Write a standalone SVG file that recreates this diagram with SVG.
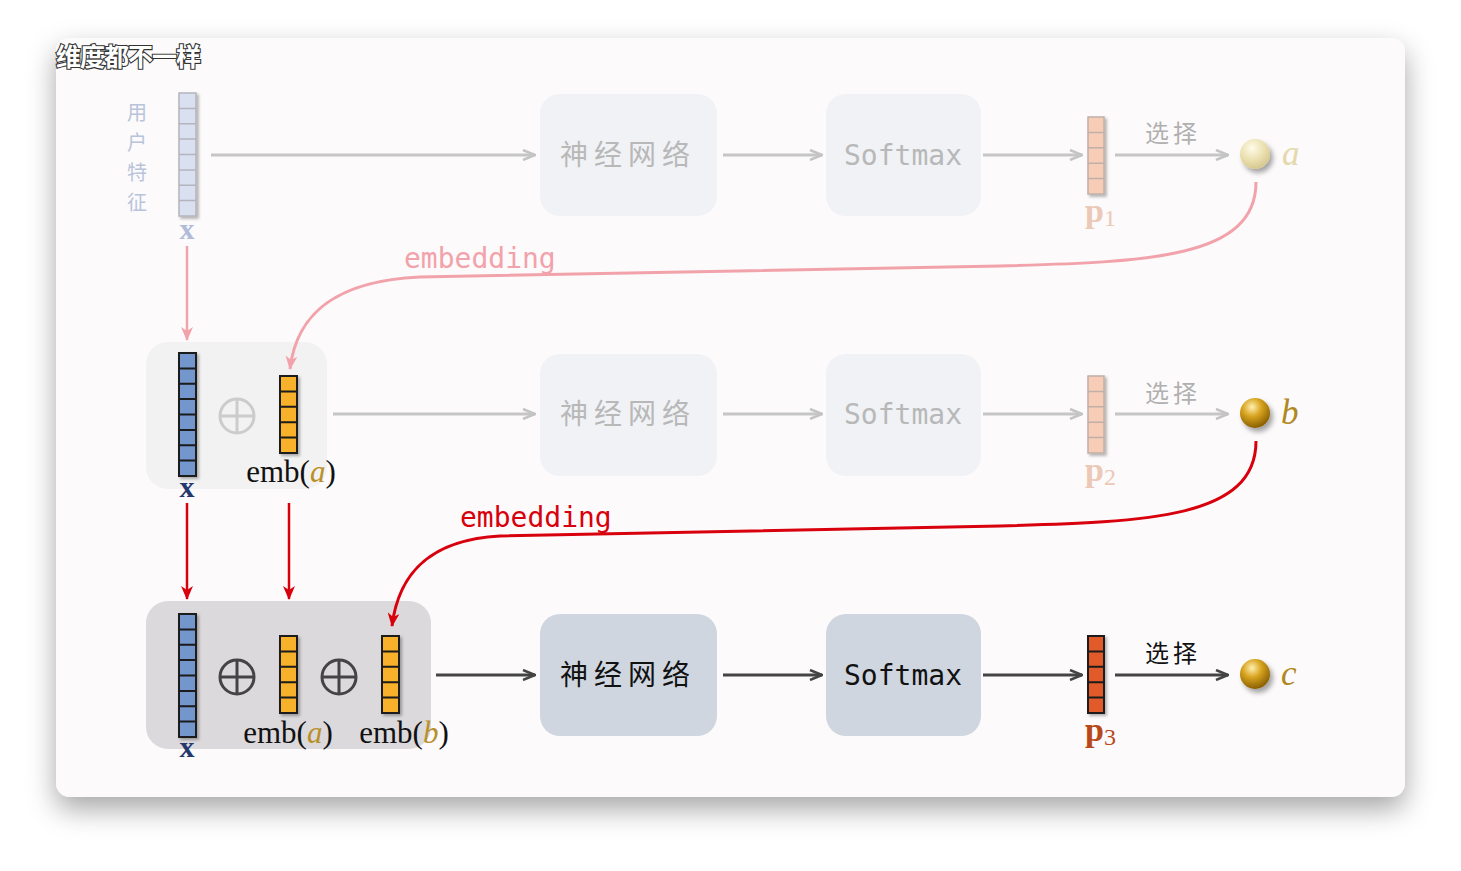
<svg xmlns="http://www.w3.org/2000/svg" width="1461" height="871" viewBox="0 0 1461 871">
<defs>
<filter id="cardShadow" x="-10%" y="-10%" width="120%" height="125%">
<feDropShadow dx="0" dy="12" stdDeviation="14" flood-color="#000" flood-opacity="0.35"/>
</filter>
<filter id="vs" x="-40%" y="-10%" width="200%" height="130%">
<feDropShadow dx="2" dy="2" stdDeviation="1.5" flood-color="#000" flood-opacity="0.3"/>
</filter>
<filter id="bs" x="-50%" y="-50%" width="220%" height="220%">
<feDropShadow dx="3" dy="4" stdDeviation="2.5" flood-color="#000" flood-opacity="0.35"/>
</filter>
<radialGradient id="gPale" cx="0.4" cy="0.3" r="0.7">
<stop offset="0" stop-color="#fffbe8"/>
<stop offset="0.6" stop-color="#eadfae"/>
<stop offset="1" stop-color="#d8c890"/>
</radialGradient>
<radialGradient id="gGold" cx="0.4" cy="0.3" r="0.7">
<stop offset="0" stop-color="#fff0b0"/>
<stop offset="0.45" stop-color="#d8a420"/>
<stop offset="1" stop-color="#8a6000"/>
</radialGradient>
<marker id="mGray" viewBox="0 0 14 12" refX="13" refY="6" markerWidth="14" markerHeight="12" markerUnits="userSpaceOnUse" orient="auto">
<path d="M1,1 L13,6 L1,11" fill="none" stroke="#c4c4c4" stroke-width="2.5"/>
</marker>
<marker id="mDark" viewBox="0 0 14 12" refX="13" refY="6" markerWidth="14" markerHeight="12" markerUnits="userSpaceOnUse" orient="auto">
<path d="M1,1 L13,6 L1,11" fill="none" stroke="#444" stroke-width="2.5"/>
</marker>
<marker id="mPink" viewBox="0 0 14 12" refX="13" refY="6" markerWidth="14" markerHeight="12" markerUnits="userSpaceOnUse" orient="auto">
<path d="M0,0 L14,6 L0,12 L4,6 Z" fill="#f2a2aa"/>
</marker>
<marker id="mRed" viewBox="0 0 14 12" refX="13" refY="6" markerWidth="14" markerHeight="12" markerUnits="userSpaceOnUse" orient="auto">
<path d="M0,0 L14,6 L0,12 L4,6 Z" fill="#d8000c"/>
</marker>
</defs>
<style>
.cjk{font-family:"Noto Sans CJK SC",sans-serif;}
.mono{font-family:"DejaVu Sans Mono","Liberation Mono",monospace;}
.serif{font-family:"Liberation Serif","DejaVu Serif",serif;}
.box1{fill:#f0f2f6;}
.box3{fill:#cfd6df;}
.lblFaint{fill:#b8b8b8;font-size:28px;}
.lblDark{fill:#111;font-size:28px;}
.vecFaint{fill:#d9e1f0;stroke:#b4b4bc;stroke-width:1.5;}
.vecBlue{fill:#7396cc;stroke:#1a1a1a;stroke-width:2;}
.vecOrange{fill:#f8b12c;stroke:#1a1a1a;stroke-width:2;}
.vecP{fill:#f7cdb8;stroke:#c0b0a8;stroke-width:1.5;}
.vecP3{fill:#e05a2a;stroke:#1a1a1a;stroke-width:2;}
.gline{stroke:#c6c6c6;stroke-width:3;fill:none;}
.dline{stroke:#444;stroke-width:3;fill:none;}
.xl{font-size:30px;font-weight:bold;}
.pl{font-size:34px;font-weight:bold;}
.sub{font-size:24px;font-weight:normal;}
.var{font-size:35px;font-style:italic;}
.emb{font-size:31px;fill:#111;}
</style>

<rect x="56" y="38" width="1349" height="759" rx="14" fill="#fcfafb" filter="url(#cardShadow)"/>
<text x="56" y="66" class="cjk" font-size="25" font-weight="bold" fill="#fff" stroke="#333" stroke-width="2.2" paint-order="stroke" letter-spacing="-1">维度都不一样</text>

<!-- Row 1 -->
<g id="row1-features">
<text x="137" y="120" class="cjk" font-size="20" fill="#b8c4da" text-anchor="middle">用</text>
<text x="137" y="150" class="cjk" font-size="20" fill="#b8c4da" text-anchor="middle">户</text>
<text x="137" y="180" class="cjk" font-size="20" fill="#b8c4da" text-anchor="middle">特</text>
<text x="137" y="210" class="cjk" font-size="20" fill="#b8c4da" text-anchor="middle">征</text>
<g filter="url(#vs)">
<rect class="vecFaint" x="179" y="93" width="17" height="123"/>
<path class="vecFaint" d="M179,108.4h17M179,123.8h17M179,139.1h17M179,154.5h17M179,169.9h17M179,185.3h17M179,200.6h17"/>
</g>
<text x="187" y="239" class="serif xl" fill="#b0bcd8" text-anchor="middle">x</text>
</g>
<g id="row1-nn">
<rect class="box1" x="540" y="94" width="177" height="122" rx="20"/>
<text x="628" y="165" class="cjk lblFaint" text-anchor="middle" letter-spacing="6">神经网络</text>
</g>
<g id="row1-softmax">
<rect class="box1" x="826" y="94" width="155" height="122" rx="20"/>
<text x="903" y="165" class="mono lblFaint" text-anchor="middle">Softmax</text>
</g>
<g id="row1-p1">
<g filter="url(#vs)">
<rect class="vecP" x="1088" y="117" width="16" height="77"/>
<path class="vecP" d="M1088,132.4h16M1088,147.8h16M1088,163.2h16M1088,178.6h16"/>
</g>
<text x="1085" y="222" class="serif pl" fill="#ecc8b6">p<tspan class="sub" dy="4">1</tspan></text>
</g>
<g id="row1-a">
<circle cx="1255" cy="154" r="15" fill="url(#gPale)" filter="url(#bs)"/>
<text x="1282" y="165" class="serif var" fill="#e4d8ac">a</text>
</g>

<!-- Row 2 -->
<g id="row2-concat">
<rect x="146" y="342" width="181" height="147" rx="22" fill="#f3f2f3"/>
<g filter="url(#vs)">
<rect class="vecBlue" x="179" y="353" width="17" height="123"/>
<path class="vecBlue" d="M179,368.4h17M179,383.8h17M179,399.1h17M179,414.5h17M179,429.9h17M179,445.3h17M179,460.6h17"/>
</g>
<text x="187" y="497" class="serif xl" fill="#24386e" text-anchor="middle">x</text>
<g fill="none" stroke="#cccccc" stroke-width="3">
<circle cx="237" cy="416" r="17"/>
<path d="M220,416h34M237,399v34"/>
</g>
<g filter="url(#vs)">
<rect class="vecOrange" x="280" y="376" width="17" height="77"/>
<path class="vecOrange" d="M280,391.4h17M280,406.8h17M280,422.2h17M280,437.6h17"/>
</g>
<text x="291" y="482" class="serif emb" text-anchor="middle">emb(<tspan font-style="italic" fill="#b8902a">a</tspan>)</text>
</g>
<g id="row2-nn">
<rect class="box1" x="540" y="354" width="177" height="122" rx="20"/>
<text x="628" y="424" class="cjk lblFaint" text-anchor="middle" letter-spacing="6">神经网络</text>
</g>
<g id="row2-softmax">
<rect class="box1" x="826" y="354" width="155" height="122" rx="20"/>
<text x="903" y="424" class="mono lblFaint" text-anchor="middle">Softmax</text>
</g>
<g id="row2-p2">
<g filter="url(#vs)">
<rect class="vecP" x="1088" y="376" width="16" height="77"/>
<path class="vecP" d="M1088,391.4h16M1088,406.8h16M1088,422.2h16M1088,437.6h16"/>
</g>
<text x="1085" y="481" class="serif pl" fill="#ecc8b6">p<tspan class="sub" dy="4">2</tspan></text>
</g>
<g id="row2-b">
<circle cx="1255" cy="413" r="15" fill="url(#gGold)" filter="url(#bs)"/>
<text x="1281" y="424" class="serif var" fill="#b08820">b</text>
</g>

<!-- Row 3 -->
<g id="row3-concat">
<rect x="146" y="601" width="285" height="148" rx="22" fill="#dcd9dc"/>
<g filter="url(#vs)">
<rect class="vecBlue" x="179" y="614" width="17" height="123"/>
<path class="vecBlue" d="M179,629.4h17M179,644.8h17M179,660.1h17M179,675.5h17M179,690.9h17M179,706.3h17M179,721.6h17"/>
</g>
<text x="187" y="757" class="serif xl" fill="#24386e" text-anchor="middle">x</text>
<g fill="none" stroke="#444" stroke-width="3">
<circle cx="237" cy="677" r="17"/>
<path d="M220,677h34M237,660v34"/>
<circle cx="339" cy="677" r="17"/>
<path d="M322,677h34M339,660v34"/>
</g>
<g filter="url(#vs)">
<rect class="vecOrange" x="280" y="636" width="17" height="77"/>
<path class="vecOrange" d="M280,651.4h17M280,666.8h17M280,682.2h17M280,697.6h17"/>
<rect class="vecOrange" x="382" y="636" width="17" height="77"/>
<path class="vecOrange" d="M382,651.4h17M382,666.8h17M382,682.2h17M382,697.6h17"/>
</g>
<text x="288" y="743" class="serif emb" text-anchor="middle">emb(<tspan font-style="italic" fill="#b8902a">a</tspan>)</text>
<text x="404" y="743" class="serif emb" text-anchor="middle">emb(<tspan font-style="italic" fill="#b8902a">b</tspan>)</text>
</g>
<g id="row3-nn">
<rect class="box3" x="540" y="614" width="177" height="122" rx="20"/>
<text x="628" y="685" class="cjk lblDark" text-anchor="middle" letter-spacing="6">神经网络</text>
</g>
<g id="row3-softmax">
<rect class="box3" x="826" y="614" width="155" height="122" rx="20"/>
<text x="903" y="685" class="mono lblDark" text-anchor="middle">Softmax</text>
</g>
<g id="row3-p3">
<g filter="url(#vs)">
<rect class="vecP3" x="1088" y="636" width="16" height="77"/>
<path class="vecP3" d="M1088,651.4h16M1088,666.8h16M1088,682.2h16M1088,697.6h16"/>
</g>
<text x="1085" y="741" class="serif pl" fill="#b84818">p<tspan class="sub" dy="4">3</tspan></text>
</g>
<g id="row3-c">
<circle cx="1255" cy="674" r="15" fill="url(#gGold)" filter="url(#bs)"/>
<text x="1281" y="685" class="serif var" fill="#b08820">c</text>
</g>

<g id="connectors">
<line class="gline" x1="211" y1="155" x2="535" y2="155" marker-end="url(#mGray)"/>
<line class="gline" x1="723" y1="155" x2="822" y2="155" marker-end="url(#mGray)"/>
<line class="gline" x1="983" y1="155" x2="1082" y2="155" marker-end="url(#mGray)"/>
<line class="gline" x1="1115" y1="155" x2="1228" y2="155" marker-end="url(#mGray)"/>
<line class="gline" x1="333" y1="414" x2="535" y2="414" marker-end="url(#mGray)"/>
<line class="gline" x1="723" y1="414" x2="822" y2="414" marker-end="url(#mGray)"/>
<line class="gline" x1="983" y1="414" x2="1082" y2="414" marker-end="url(#mGray)"/>
<line class="gline" x1="1115" y1="414" x2="1228" y2="414" marker-end="url(#mGray)"/>
<line class="dline" x1="436" y1="675" x2="535" y2="675" marker-end="url(#mDark)"/>
<line class="dline" x1="723" y1="675" x2="822" y2="675" marker-end="url(#mDark)"/>
<line class="dline" x1="983" y1="675" x2="1082" y2="675" marker-end="url(#mDark)"/>
<line class="dline" x1="1115" y1="675" x2="1228" y2="675" marker-end="url(#mDark)"/>
<line x1="187" y1="246" x2="187" y2="340" stroke="#f2a2aa" stroke-width="2.5" marker-end="url(#mPink)"/>
<path d="M1256,182 C1256,258 1150,262 1000,266 L420,277 C330,281 296,318 290,369" fill="none" stroke="#f2a2aa" stroke-width="3" marker-end="url(#mPink)"/>
<text x="404" y="268" class="mono" font-size="28" fill="#f2a2aa">embedding</text>
<line x1="187" y1="503" x2="187" y2="599" stroke="#d8000c" stroke-width="2.5" marker-end="url(#mRed)"/>
<line x1="289" y1="503" x2="289" y2="599" stroke="#d8000c" stroke-width="2.5" marker-end="url(#mRed)"/>
<path d="M1256,441 C1256,518 1150,522 1000,526 L500,536 C425,540 398,578 392,626" fill="none" stroke="#d8000c" stroke-width="3" marker-end="url(#mRed)"/>
<text x="460" y="527" class="mono" font-size="28" fill="#d8000c">embedding</text>
<text x="1173" y="142" class="cjk" font-size="24" fill="#b0b0b0" text-anchor="middle" letter-spacing="4">选择</text>
<text x="1173" y="402" class="cjk" font-size="24" fill="#b0b0b0" text-anchor="middle" letter-spacing="4">选择</text>
<text x="1173" y="662" class="cjk" font-size="24" fill="#111" text-anchor="middle" letter-spacing="4">选择</text>
</g>
</svg>
